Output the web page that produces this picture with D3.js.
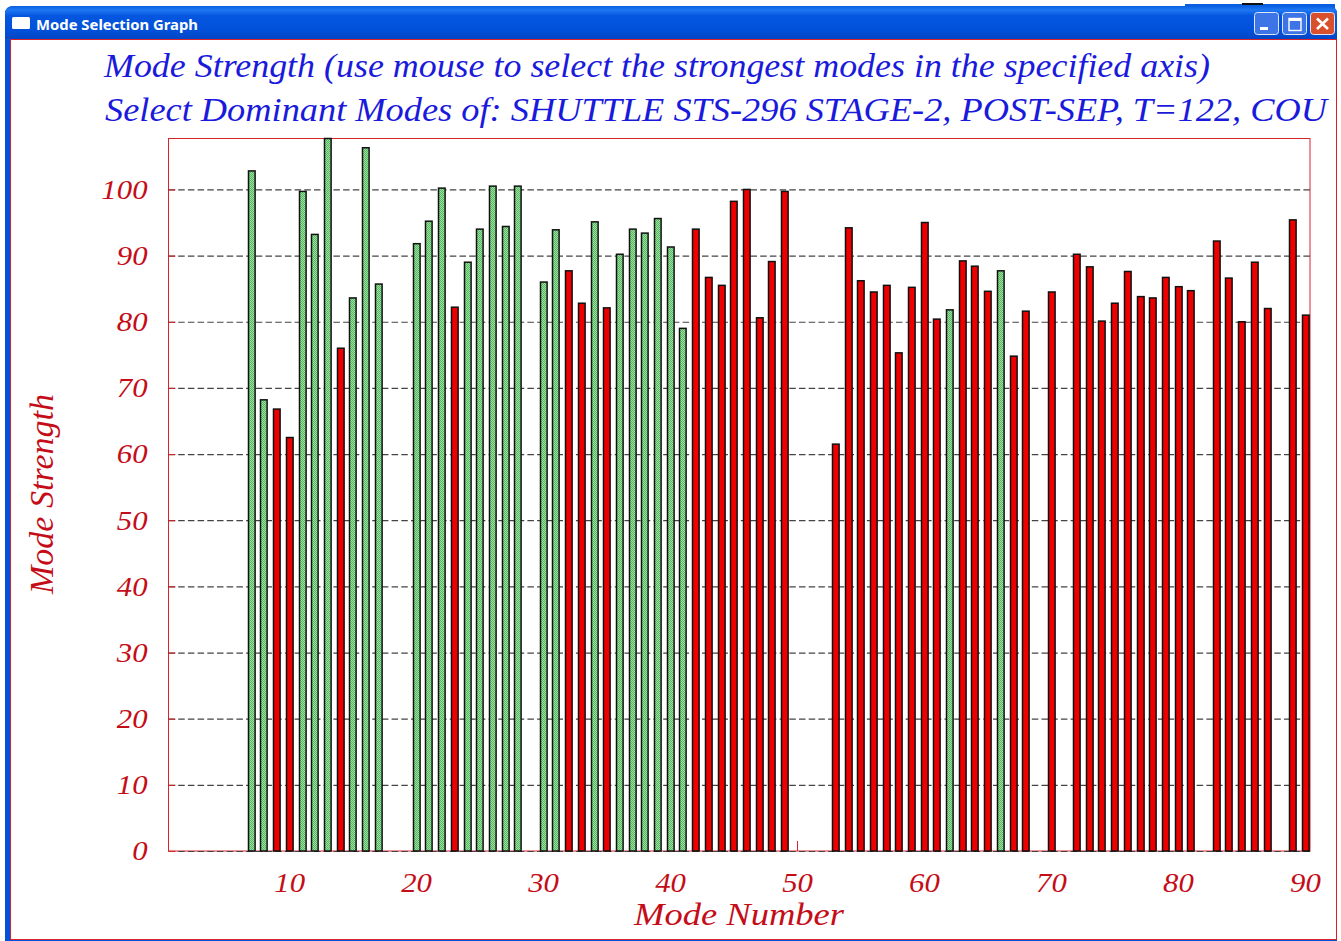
<!DOCTYPE html>
<html>
<head>
<meta charset="utf-8">
<script src="https://cdn.jsdelivr.net/npm/d3@7"></script>
<style>
html, body { margin: 0; padding: 0; background: #fff; overflow: hidden; }
svg { display: block; }
text { font-family: "Liberation Serif", serif; font-style: italic; }
</style>
</head>
<body>
<svg width="1341" height="941"></svg>
<script>
// Mode Selection Graph
const windowTitle = 'Mode Selection Graph';
const titleLines = [
  'Mode Strength (use mouse to select the strongest modes in the specified axis)',
  'Select Dominant Modes of: SHUTTLE STS-296 STAGE-2, POST-SEP, T=122, COU'
];
const xLabel = 'Mode Number';
const yLabel = 'Mode Strength';

const modes = [7, 8, 9, 10, 11, 12, 13, 14, 15, 16, 17,
  20, 21, 22, 23, 24, 25, 26, 27, 28,
  30, 31, 32, 33, 34, 35, 36, 37, 38, 39, 40, 41, 42, 43, 44, 45, 46, 47, 48, 49,
  53, 54, 55, 56, 57, 58, 59, 60, 61, 62, 63, 64, 65, 66, 67, 68,
  70, 72, 73, 74, 75, 76, 77, 78, 79, 80, 81,
  83, 84, 85, 86, 87, 89, 90];
const strengths = [102.8, 68.2, 66.8, 62.5, 99.7, 93.2, 107.7, 76, 83.6, 106.3, 85.7,
  91.8, 95.2, 100.2, 82.2, 89, 94, 100.5, 94.4, 100.5,
  86, 93.9, 87.7, 82.8, 95.1, 82.1, 90.2, 94, 93.4, 95.6, 91.3, 79, 94, 86.7, 85.5, 98.2, 100, 80.6, 89.1, 99.7,
  61.5, 94.2, 86.2, 84.5, 85.5, 75.3, 85.2, 95, 80.4, 81.8, 89.2, 88.4, 84.6, 87.7, 74.8, 81.6,
  84.5, 90.2, 88.3, 80.1, 82.8, 87.6, 83.8, 83.6, 86.7, 85.3, 84.7,
  92.2, 86.6, 80, 89, 82, 95.4, 81];
// modes picked by the user show up green, the rest stay red
const selectedModes = [7, 8, 11, 12, 13, 15, 16, 17, 20, 21, 22, 24, 25, 26, 27, 28,
  30, 31, 34, 36, 37, 38, 39, 40, 41, 62, 66];
const yTicks = [0, 10, 20, 30, 40, 50, 60, 70, 80, 90, 100];
const xTicks = [10, 20, 30, 40, 50, 60, 70, 80, 90];

const red = '#c40d18';
const svg = d3.select('svg');
const defs = svg.append('defs');

// title bar gradient
const grad = defs.append('linearGradient').attr('id', 'bar').attr('x1', 0).attr('x2', 0).attr('y1', 0).attr('y2', 1);
[[0, '#0a5fe0'], [0.12, '#1f78f2'], [0.3, '#0556e0'], [0.75, '#0150d8'], [1, '#0446c4']].forEach(s =>
  grad.append('stop').attr('offset', s[0]).attr('stop-color', s[1]));

// dithered green fill of the selected bars
const pat = defs.append('pattern').attr('id', 'dither').attr('width', 2).attr('height', 2).attr('patternUnits', 'userSpaceOnUse');
pat.append('rect').attr('width', 2).attr('height', 2).attr('fill', '#9be49b');
pat.append('rect').attr('width', 1).attr('height', 1).attr('fill', '#55b565');
pat.append('rect').attr('x', 1).attr('y', 1).attr('width', 1).attr('height', 1).attr('fill', '#55b565');

// window frame
svg.append('rect').attr('x', 1185).attr('y', 4).attr('width', 150).attr('height', 4).attr('fill', '#0a5fe0');
svg.append('rect').attr('x', 1242).attr('y', 3).attr('width', 21).attr('height', 2).attr('fill', '#111');
svg.append('path')
  .attr('d', 'M5,941 L5,14 Q5,6 14,6 L1328,6 Q1337,6 1337,14 L1337,941 Z')
  .attr('fill', '#0450d8');
svg.append('path')
  .attr('d', 'M5,39 L5,14 Q5,6 14,6 L1328,6 Q1337,6 1337,14 L1337,39 Z')
  .attr('fill', 'url(#bar)');
svg.append('rect').attr('x', 10.5).attr('y', 39.5).attr('width', 1326).attr('height', 900)
  .attr('fill', '#fff').attr('stroke', '#d8232a').attr('stroke-width', 1);

svg.append('rect').attr('x', 12).attr('y', 17).attr('width', 18).attr('height', 12).attr('rx', 1.5).attr('fill', '#fff');
svg.append('text').text(windowTitle)
  .attr('x', 36).attr('y', 30)
  .style('font-family', '"Noto Sans", sans-serif').style('font-style', 'normal').style('font-weight', 700)
  .attr('font-size', 14).attr('fill', '#fff')
  .attr('textLength', 162).attr('lengthAdjust', 'spacingAndGlyphs');

// window buttons
const btn = svg.append('g');
[[1254.5, '#3d74e6'], [1282.5, '#3d74e6'], [1310.5, '#d9512c']].forEach(b =>
  btn.append('rect').attr('x', b[0]).attr('y', 12.5).attr('width', 24).attr('height', 22).attr('rx', 3)
    .attr('fill', b[1]).attr('stroke', '#dfe8fb').attr('stroke-width', 1));
btn.append('rect').attr('x', 1260).attr('y', 27).attr('width', 8).attr('height', 3).attr('fill', '#fff');
btn.append('rect').attr('x', 1289).attr('y', 18.5).attr('width', 12).attr('height', 12).attr('fill', 'none').attr('stroke', '#fff').attr('stroke-width', 1.4);
btn.append('rect').attr('x', 1289).attr('y', 18).attr('width', 12).attr('height', 3).attr('fill', '#fff');
btn.append('path').attr('d', 'M1317,18.5 L1328,29 M1328,18.5 L1317,29').attr('stroke', '#fff').attr('stroke-width', 2.6);

const plot = { left: 168.5, right: 1310, top: 138.5, bottom: 851 };
const x = d3.scaleLinear().domain([0.5, 90.4]).range([plot.left, plot.right]);
const y = d3.scaleLinear().domain([0, 107.7]).range([plot.bottom, plot.top]);

// stretch text horizontally, the original was scaled wider than tall
function stretch(sel, factor) {
  sel.each(function () {
    this.setAttribute('textLength', this.getComputedTextLength() * factor);
    this.setAttribute('lengthAdjust', 'spacingAndGlyphs');
  });
}

// plot box
svg.append('rect').attr('x', plot.left).attr('y', plot.top)
  .attr('width', plot.right - plot.left).attr('height', plot.bottom - plot.top)
  .attr('fill', '#fff').attr('stroke', '#d8232a').attr('stroke-width', 1);

// y axis with dashed grid
const yAxis = svg.append('g').attr('transform', `translate(${plot.left},0)`)
  .call(d3.axisLeft(y).tickValues(yTicks).tickSize(-(plot.right - plot.left)).tickPadding(21).tickFormat(d3.format('d')));
yAxis.select('.domain').remove();
yAxis.selectAll('line').attr('stroke', '#444').attr('stroke-width', 1.2).attr('stroke-dasharray', '6.5 3.2');
yAxis.selectAll('text').attr('font-size', 27).attr('fill', red).attr('dy', '0.33em')
  .style('font-family', '"Liberation Serif", serif');
stretch(yAxis.selectAll('text'), 1.14);

// short red ticks where the grid starts
const yMarks = svg.append('g').attr('transform', `translate(${plot.left},0)`)
  .call(d3.axisLeft(y).tickValues(yTicks).tickSize(-7).tickFormat(''));
yMarks.select('.domain').remove();
yMarks.selectAll('line').attr('stroke', '#d8232a');

// x axis labels and ticks
const xAxis = svg.append('g').attr('transform', `translate(0,${plot.bottom})`)
  .call(d3.axisBottom(x).tickValues(xTicks).tickSize(-10).tickPadding(21.8).tickFormat(d3.format('d')));
xAxis.select('.domain').remove();
xAxis.selectAll('line').attr('stroke', '#d8232a');
xAxis.selectAll('text').attr('font-size', 27).attr('fill', red)
  .style('font-family', '"Liberation Serif", serif');
stretch(xAxis.selectAll('text'), 1.14);

// bars
const barW = (x(1) - x(0)) * 0.52;
const data = modes.map((m, i) => ({ mode: m, value: strengths[i], on: selectedModes.includes(m) }));
svg.append('g').selectAll('rect').data(data).enter().append('rect')
  .attr('x', d => Math.round(x(d.mode) - barW / 2) + 0.5)
  .attr('y', d => y(d.value))
  .attr('width', barW)
  .attr('height', d => y(0) - y(d.value))
  .attr('fill', d => d.on ? 'url(#dither)' : '#ee0000')
  .attr('stroke', '#111')
  .attr('stroke-width', 1.5);

// titles
const titleY = [77, 121];
const titleX = [104, 105];
const titleW = [1106, 1222];
svg.append('g').selectAll('text').data(titleLines).enter().append('text')
  .text(d => d)
  .attr('x', (d, i) => titleX[i])
  .attr('y', (d, i) => titleY[i])
  .attr('font-size', 33)
  .attr('fill', '#1a1adc')
  .attr('textLength', (d, i) => titleW[i])
  .attr('lengthAdjust', 'spacingAndGlyphs');

svg.append('text').text(xLabel)
  .attr('x', 634).attr('y', 924.5)
  .attr('font-size', 31).attr('fill', red)
  .attr('textLength', 210).attr('lengthAdjust', 'spacingAndGlyphs');

svg.append('text').text(yLabel)
  .attr('transform', 'translate(53,594) rotate(-90)')
  .attr('font-size', 33).attr('fill', red)
  .attr('textLength', 200).attr('lengthAdjust', 'spacingAndGlyphs');
</script>
</body>
</html>
